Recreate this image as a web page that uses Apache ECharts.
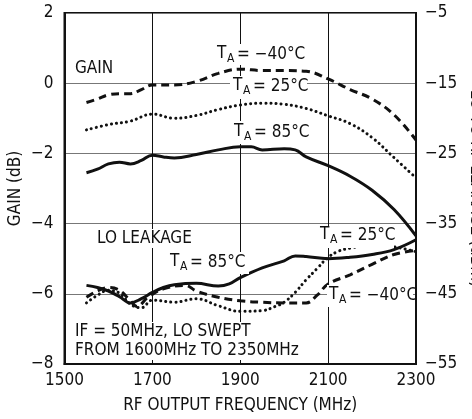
<!DOCTYPE html>
<html><head><meta charset="utf-8">
<script src="https://cdn.jsdelivr.net/npm/echarts@6/dist/echarts.min.js"></script>
<style>html,body{margin:0;padding:0;background:#fff}#c{width:472px;height:419px}</style>
</head><body><div id="c"></div>
<script>
// ---- data ----
var xTicks = [1500, 1700, 1900, 2100, 2300];
var gainTicks = [-8, -6, -4, -2, 0, 2];
var leakTicks = [-55, -45, -35, -25, -15, -5];

var gainM40F = [1550,1575,1600,1625,1650,1675,1700,1750,1800,1850,1900,1950,2000,2050,2100,2150,2200,2250,2300];
var gainM40V = [-0.55,-0.45,-0.33,-0.30,-0.30,-0.18,-0.05,-0.05,0.05,0.28,0.40,0.36,0.36,0.34,0.12,-0.18,-0.45,-0.90,-1.62];

var gain25F = [1550,1600,1650,1700,1750,1800,1850,1900,1950,2000,2050,2100,2150,2200,2250,2300];
var gain25V = [-1.33,-1.18,-1.08,-0.88,-1.0,-0.92,-0.75,-0.62,-0.57,-0.60,-0.72,-0.93,-1.15,-1.55,-2.12,-2.70];

var gain85F = [1550,1575,1600,1625,1650,1675,1700,1725,1750,1800,1850,1900,1925,1950,2000,2025,2050,2100,2150,2200,2250,2300];
var gain85V = [-2.55,-2.45,-2.30,-2.25,-2.30,-2.20,-2.05,-2.10,-2.13,-2.03,-1.90,-1.81,-1.81,-1.90,-1.87,-1.90,-2.10,-2.35,-2.65,-3.05,-3.60,-4.35];

var leak85F = [1550,1575,1600,1625,1650,1675,1700,1725,1750,1800,1850,1875,1900,1950,2000,2025,2050,2100,2150,2200,2250,2300];
var leak85V = [-43.8,-44.1,-44.6,-45.4,-46.3,-45.7,-44.8,-44.1,-43.7,-43.5,-43.9,-43.6,-42.7,-41.3,-40.3,-39.6,-39.7,-40.0,-39.8,-39.4,-38.7,-37.3];

var leak25F = [1550,1575,1600,1625,1650,1675,1700,1750,1800,1850,1900,1950,1980,2000,2025,2050,2075,2100,2125,2150,2200,2250,2300];
var leak25V = [-46.3,-45.2,-44.5,-44.9,-46.5,-47.0,-45.9,-46.2,-45.7,-46.7,-47.5,-47.4,-46.8,-46.2,-44.8,-43.0,-41.4,-39.8,-38.9,-38.5,-38.0,-38.3,-39.0];

var leakM40F = [1550,1575,1600,1625,1650,1665,1690,1725,1775,1800,1850,1900,1950,2000,2050,2075,2100,2150,2200,2250,2300];
var leakM40V = [-45.5,-44.6,-44.1,-44.5,-46.0,-46.8,-45.5,-44.3,-43.8,-44.6,-45.5,-46.0,-46.2,-46.3,-46.3,-45.2,-43.6,-42.3,-40.8,-39.4,-38.8];

// ---- helpers ----
function pairs(f, v) { return f.map(function (x, i) { return [x, v[i]]; }); }
var FONT = '"DejaVu Sans Condensed","Liberation Sans Narrow",sans-serif';
var FS = 17;
function minus(v) { return String(v).replace('-', '\u2212'); }

var DASH = { type: [8, 5], width: 3, color: '#111', cap: 'butt' };
var DOT = { type: [0.1, 5], width: 3, color: '#111', cap: 'round' };
var SOLID = { type: 'solid', width: 3, color: '#111' };

function ser(name, f, v, ls, yi) {
  return { name: name, type: 'line', yAxisIndex: yi, data: pairs(f, v), smooth: 0.4,
    showSymbol: false, symbol: 'none', lineStyle: ls, z: 3, animation: false };
}

function taLabel(x, y, rest) {
  return { type: 'group', x: x, y: y, z: 10, children: [
    { type: 'text', z: 10, x: 0, y: 0, style: { text: 'T', font: FS + 'px ' + FONT, fill: '#111', textVerticalAlign: 'middle' } },
    { type: 'text', z: 10, x: 10, y: 5, style: { text: 'A', font: '12px ' + FONT, fill: '#111', textVerticalAlign: 'middle' } },
    { type: 'text', z: 10, x: 20, y: 1, style: { text: rest, font: FS + 'px ' + FONT, fill: '#111', textVerticalAlign: 'middle' } }
  ]};
}
function box(x, y, w, h) {
  return { type: 'rect', z: 9, shape: { x: x, y: y, width: w, height: h }, style: { fill: '#fff' } };
}
function txt(x, y, s) {
  return { type: 'text', z: 10, x: x, y: y, style: { text: s, font: FS + 'px ' + FONT, fill: '#111', textVerticalAlign: 'middle' } };
}
var lbl = { fontFamily: FONT, fontSize: FS, color: '#111' };

var chart = echarts.init(document.getElementById('c'), null, { renderer: 'canvas' });
chart.setOption({
  animation: false,
  backgroundColor: '#fff',
  grid: { left: 64.5, right: 56, top: 13, bottom: 55, containLabel: false, outerBoundsMode: 'none',
    show: true, borderColor: '#111', borderWidth: 2, backgroundColor: 'transparent' },
  xAxis: {
    type: 'value', min: xTicks[0], max: xTicks[xTicks.length - 1], interval: 200,
    name: 'RF OUTPUT FREQUENCY (MHz)', nameLocation: 'middle', nameGap: 33, nameMoveOverlap: false,
    nameTextStyle: lbl,
    axisLine: { show: true, onZero: false, lineStyle: { color: '#111', width: 2 } },
    axisTick: { show: false },
    axisLabel: Object.assign({ margin: 8, formatter: function (v) { return String(v); } }, lbl),
    splitLine: { show: true, lineStyle: { color: '#111', width: 1 } }
  },
  yAxis: [{
    type: 'value', min: gainTicks[0], max: gainTicks[gainTicks.length - 1], interval: 2,
    name: 'GAIN (dB)', nameLocation: 'middle', nameGap: 40, nameMoveOverlap: false,
    nameTextStyle: lbl,
    axisLine: { show: true, onZero: false, lineStyle: { color: '#111', width: 2 } },
    axisTick: { show: false },
    axisLabel: Object.assign({ margin: 11, formatter: minus }, lbl),
    splitLine: { show: true, lineStyle: { color: '#777', width: 1 } }
  }, {
    type: 'value', position: 'right', min: leakTicks[0], max: leakTicks[leakTicks.length - 1], interval: 10,
    name: 'LO TO RF LEAKAGE (dBm)', nameLocation: 'middle', nameGap: 51, nameRotate: -90, nameMoveOverlap: false,
    nameTextStyle: lbl,
    axisLine: { show: true, onZero: false, lineStyle: { color: '#111', width: 2 } },
    axisTick: { show: false },
    axisLabel: Object.assign({ margin: 9, formatter: minus }, lbl),
    splitLine: { show: false }
  }],
  series: [
    ser('Gain -40', gainM40F, gainM40V, DASH, 0),
    ser('Gain 25', gain25F, gain25V, DOT, 0),
    ser('Gain 85', gain85F, gain85V, SOLID, 0),
    ser('Leak 85', leak85F, leak85V, SOLID, 1),
    ser('Leak 25', leak25F, leak25V, DOT, 1),
    ser('Leak -40', leakM40F, leakM40V, DASH, 1)
  ],
  graphic: [
    txt(75, 69, 'GAIN'),
    box(215, 44, 88, 21), taLabel(217, 54, '= \u221240\u00b0C'),
    box(230, 76, 77, 23), taLabel(233, 86, '= 25\u00b0C'),
    box(230, 121, 78, 23), taLabel(234, 132, '= 85\u00b0C'),
    box(95, 229, 99, 19), txt(97, 239, 'LO LEAKAGE'),
    box(168, 252, 81, 22), taLabel(170, 262, '= 85\u00b0C'),
    box(318, 226, 76, 22), taLabel(320, 235, '= 25\u00b0C'),
    box(327, 285, 86, 22), taLabel(329, 295, '= \u221240\u00b0C'),
    box(73, 322, 176, 38), txt(75, 332, 'IF = 50MHz, LO SWEPT'), txt(75, 351, 'FROM 1600MHz TO 2350MHz')
  ]
});
</script></body></html>
